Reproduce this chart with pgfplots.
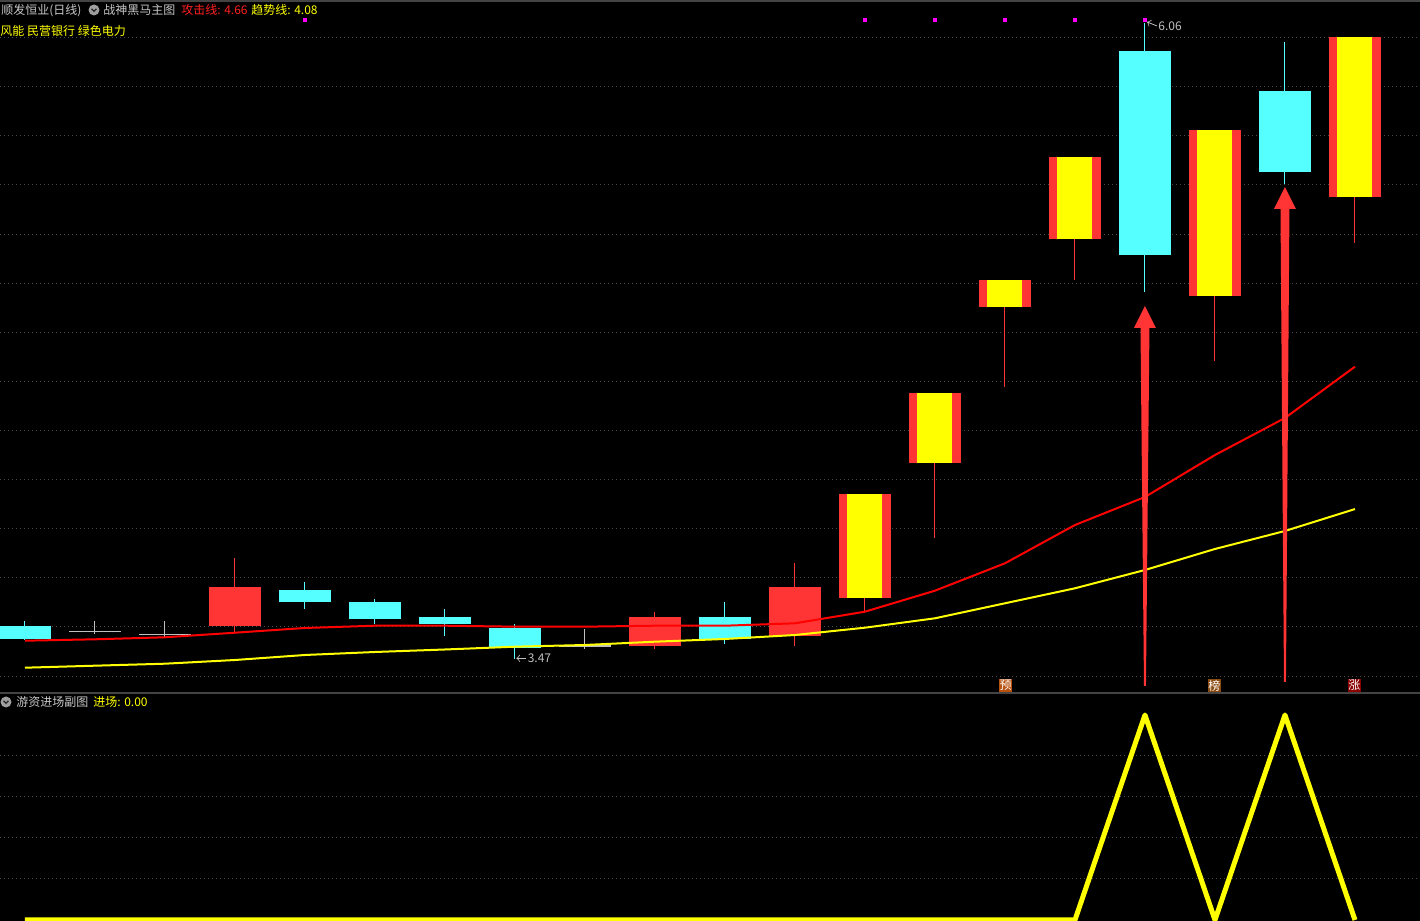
\documentclass[border=0pt]{standalone}
\usepackage{fontspec}
\setmainfont{Noto Sans CJK SC}
\usepackage{pgfplots}
\pgfplotsset{compat=1.18}
\usepackage{pgfplotstable}
\definecolor{kcyan}{HTML}{55FFFF}
\definecolor{kred}{HTML}{FF3535}
\definecolor{maRed}{HTML}{FF0000}
\definecolor{kyel}{HTML}{FFFF00}
\definecolor{kgray}{HTML}{C0C0C0}
\definecolor{gridc}{HTML}{4A4A4A}
\definecolor{txtgray}{HTML}{C8C8C8}
\definecolor{kmag}{HTML}{FF00FF}
\definecolor{sepc}{HTML}{444444}
\definecolor{yubg}{HTML}{B8500E}
\definecolor{bangbg}{HTML}{8B4A10}
\definecolor{zhangbg}{HTML}{8B0000}
\definecolor{hdred}{HTML}{FF2020}

% candles: index, open, high, low, close
\pgfplotstableread{
i o h l c
0 3.604 3.624 3.547 3.552
4 3.750 3.783 3.673 3.702
5 3.702 3.714 3.612 3.632
6 3.640 3.673 3.563 3.612
7 3.597 3.612 3.470 3.513
10 3.640 3.702 3.530 3.551
16 5.946 6.060 4.964 5.115
18 5.783 5.983 5.404 5.453
}\cyandata
\pgfplotstableread{
i o h l c
3 3.605 3.881 3.581 3.763
9 3.522 3.661 3.510 3.640
11 3.563 3.860 3.522 3.763
}\reddata
\pgfplotstableread{
i o h l c
1 3.582 3.624 3.572 3.582
2 3.570 3.624 3.559 3.570
8 3.522 3.592 3.510 3.522
}\dojidata
\pgfplotstableread{
i o h l c
12 3.719 4.141 3.657 4.141
13 4.269 4.553 3.963 4.553
14 4.903 5.013 4.577 5.013
15 5.180 5.514 5.013 5.514
17 4.949 5.624 4.683 5.624
19 5.352 6.003 5.165 6.003
}\limitdata
% attack line, trend line, entry indicator
\pgfplotstableread{
i atk trd entry
0 3.5438 3.4338 0
1 3.5495 3.4420 0
2 3.5577 3.4501 0
3 3.5764 3.4652 0
4 3.5956 3.4856 0
5 3.6049 3.4978 0
6 3.6049 3.5080 0
7 3.6009 3.5194 0
8 3.6009 3.5263 0
9 3.6049 3.5398 0
10 3.6049 3.5508 0
11 3.6147 3.5670 0
12 3.6620 3.5968 0
13 3.7475 3.6351 0
14 3.8591 3.6962 0
15 4.0151 3.7573 0
16 4.1292 3.8318 1
17 4.3002 3.9174 0
18 4.4510 3.9907 1
19 4.6600 4.0800 0
}\madata

\pgfplotsset{
  wick/.style={draw=none, forget plot, error bars/.cd, y dir=plus, y explicit, error mark=none,
     error bar style={line width=0.5pt, draw=#1}},
  body/.style 2 args={draw=none, forget plot, error bars/.cd, y dir=plus, y explicit, error mark=none,
     error bar style={line width=#2, draw=#1}},
  panel/.style={scale only axis, width=710pt, xmin=-0.357, xmax=19.929,
     axis line style={draw=none}, tick style={draw=none}, major tick length=0pt,
     xtick=\empty, yticklabels={}, ymajorgrids,
     grid style={gridc, line width=0.5pt, dash pattern=on 0.5pt off 1.5pt}, clip=true},
}
\newcommand{\sm}{\fontsize{6}{7}\selectfont}

\begin{document}
\begin{tikzpicture}
\useasboundingbox (0,0) rectangle (710pt,460.5pt);
\fill[black] (0,0) rectangle (710pt,460.5pt);
\draw[sepc, line width=0.6pt] (0,460pt) -- (710pt,460pt);
\draw[sepc, line width=0.6pt] (0,114pt) -- (710pt,114pt);

\begin{axis}[panel, at={(0pt,114pt)}, anchor=south west, height=346.5pt,
  ymin=3.3308, ymax=6.1536,
  ytick={3.4,3.6,3.8,4.0,4.2,4.4,4.6,4.8,5.0,5.2,5.4,5.6,5.8,6.0}]
% wicks
\addplot[wick=kcyan] table[x=i, y=l, y error plus expr={\thisrow{h}-\thisrow{l}}] \cyandata;
\addplot[wick=kred] table[x=i, y=l, y error plus expr={\thisrow{h}-\thisrow{l}}] \reddata;
\addplot[wick=kgray] table[x=i, y=l, y error plus expr={\thisrow{h}-\thisrow{l}}] \dojidata;
\addplot[wick=kred] table[x=i, y=l, y error plus expr={\thisrow{h}-\thisrow{l}}] \limitdata;
% bodies
\addplot[body={kcyan}{26.3pt}] table[x=i, y expr={min(\thisrow{o},\thisrow{c})}, y error plus expr={abs(\thisrow{c}-\thisrow{o})}] \cyandata;
\addplot[body={kred}{26.3pt}] table[x=i, y expr={min(\thisrow{o},\thisrow{c})}, y error plus expr={abs(\thisrow{c}-\thisrow{o})}] \reddata;
\addplot[body={kred}{26.3pt}] table[x=i, y expr={min(\thisrow{o},\thisrow{c})}, y error plus expr={abs(\thisrow{c}-\thisrow{o})}] \limitdata;
\addplot[body={kyel}{17.5pt}] table[x=i, y expr={min(\thisrow{o},\thisrow{c})}, y error plus expr={abs(\thisrow{c}-\thisrow{o})}] \limitdata;
\addplot[draw=none, forget plot, error bars/.cd, x dir=both, x fixed=0.376, error mark=none,
   error bar style={line width=0.6pt, draw=kgray}] table[x=i, y=c] \dojidata;
% moving lines
\addplot[maRed, line width=1pt] table[x=i, y=atk] \madata;
\addplot[kyel, line width=1pt] table[x=i, y=trd] \madata;
% arrows
\addplot[fill=kred, draw=none] coordinates {(15.986,3.3593) (15.936,4.8176) (15.843,4.8176) (16,4.9072) (16.157,4.8176) (16.064,4.8176) (16.014,3.3593)} -- cycle;
\addplot[fill=kred, draw=none] coordinates {(17.986,3.3756) (17.936,5.3023) (17.843,5.3023) (18,5.3919) (18.157,5.3023) (18.064,5.3023) (18.014,3.3756)} -- cycle;
% signal dots
\addplot[only marks, mark=square*, mark size=0.75pt, kmag] coordinates {(4,6.072) (12,6.072) (13,6.072) (14,6.072) (15,6.072) (16,6.072)};
% extreme marks
\draw[kgray, line width=0.4pt, {<[scale=0.7]}-] (axis cs:16.03,6.064) -- (axis cs:16.17,6.048)
   node[right, inner sep=0.6pt, font=\sm, text=kgray] {6.06};
\draw[kgray, line width=0.4pt, {<[scale=0.7]}-] (axis cs:7.02,3.472) -- (axis cs:7.16,3.472)
   node[right, inner sep=0.6pt, font=\sm, text=kgray] {3.47};
% tags
\node[fill=yubg, text=white, inner sep=0.3pt, minimum size=6.5pt, font=\sm] at (axis cs:14.01,3.361) {预};
\node[fill=bangbg, text=white, inner sep=0.3pt, minimum size=6.5pt, font=\sm] at (axis cs:16.99,3.361) {榜};
\node[fill=zhangbg, text=white, inner sep=0.3pt, minimum size=6.5pt, font=\sm] at (axis cs:18.99,3.363) {涨};
\end{axis}

\begin{axis}[panel, at={(0pt,0pt)}, anchor=south west, height=114pt,
  ymin=-0.00488, ymax=1.1073, ytick={0.2,0.4,0.6,0.8}]
\addplot[kyel, line width=2.5pt, line join=round] table[x=i, y=entry] \madata;
\end{axis}

% header texts
\node[anchor=base west, inner sep=0pt, text=txtgray, font=\sm] at (0.5pt,453.2pt) {顺发恒业(日线)};
\fill[gray!75] (47pt,455.5pt) circle (2.75pt);
\draw[black!85, line width=0.6pt] (45.8pt,456.1pt) -- (47pt,454.8pt) -- (48.2pt,456.1pt);
\node[anchor=base west, inner sep=0pt, text=txtgray, font=\sm] at (51.5pt,453.2pt) {战神黑马主图};
\node[anchor=base west, inner sep=0pt, text=hdred, font=\sm] at (90.5pt,453.2pt) {攻击线: 4.66};
\node[anchor=base west, inner sep=0pt, text=kyel, font=\sm] at (125.5pt,453.2pt) {趋势线: 4.08};
\node[anchor=base west, inner sep=0pt, text=kyel, font=\sm] at (0pt,442.7pt) {风能 民营银行 绿色电力};
\fill[gray!75] (3pt,109.5pt) circle (2.75pt);
\draw[black!85, line width=0.6pt] (1.8pt,110.1pt) -- (3pt,108.8pt) -- (4.2pt,110.1pt);
\node[anchor=base west, inner sep=0pt, text=txtgray, font=\sm] at (8pt,107.2pt) {游资进场副图};
\node[anchor=base west, inner sep=0pt, text=kyel, font=\sm] at (46.5pt,107.2pt) {进场: 0.00};
\end{tikzpicture}
\end{document}
